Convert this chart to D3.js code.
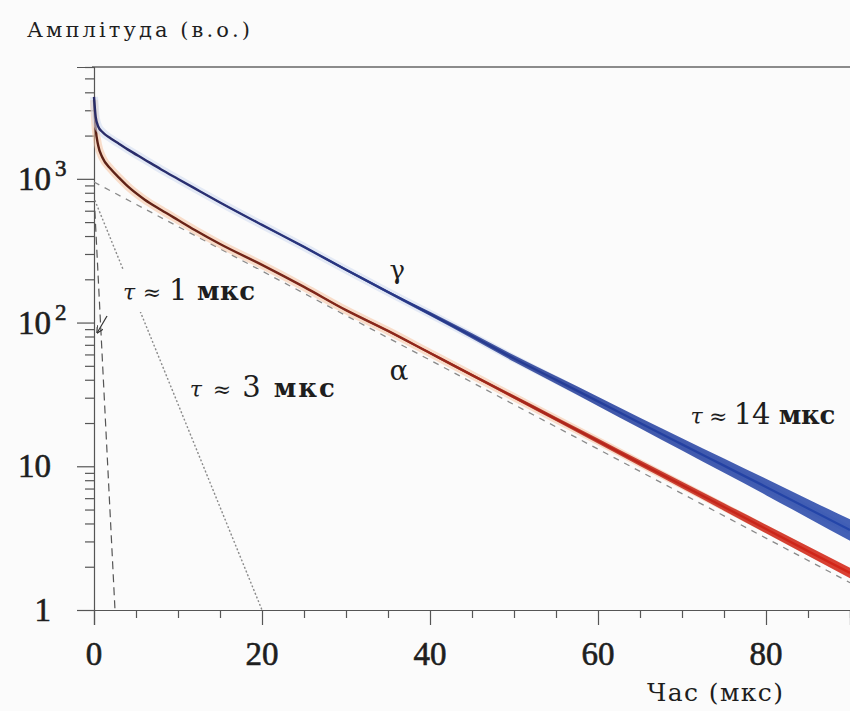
<!DOCTYPE html>
<html>
<head>
<meta charset="UTF-8">
<title>Amplitude decay</title>
<script src="https://cdn.jsdelivr.net/npm/d3@7"></script>
<style>
    body { margin: 0; background: #fbfbfb; }
    svg { display: block; }
    text { font-family: "Liberation Serif", "Times New Roman", serif; fill: #1e1e1e; }
    .lab { font-family: "DejaVu Serif", serif; }
</style>
</head>
<body>
<div id="chart"></div>
<script>

// time samples (мкс)
var times = [0, 0.2, 0.5, 1, 2, 3, 4, 6, 8, 10, 12, 15, 20, 25, 30, 35, 40, 45, 50, 55, 60, 65, 70, 75, 80, 85, 90];

// gamma trace (blue)
var gammaValues = [3715, 2700, 2314, 2118, 1909, 1750, 1603, 1365, 1162, 998, 858, 685, 478, 336, 233, 163, 115, 80.7, 56.2, 39.9, 28.3, 20.0, 14.2, 10.1, 7.18, 5.08, 3.6];
// half-width of the noisy band, in decades
var gammaSpread = [0.004, 0.004, 0.004, 0.004, 0.004, 0.004, 0.004, 0.004, 0.004, 0.004, 0.004, 0.005, 0.005, 0.006, 0.008, 0.01, 0.014, 0.018, 0.022, 0.027, 0.032, 0.037, 0.043, 0.05, 0.057, 0.065, 0.075];

// alpha trace (red)
var alphaValues = [3540, 2240, 1706, 1408, 1170, 1015, 889, 719, 607, 517, 441, 352, 252, 177, 122, 87.5, 61.4, 43.1, 30.3, 21.3, 15.0, 10.5, 7.41, 5.21, 3.66, 2.57, 1.81];
var alphaSpread = [0.004, 0.004, 0.004, 0.004, 0.004, 0.004, 0.004, 0.004, 0.004, 0.004, 0.004, 0.004, 0.004, 0.005, 0.006, 0.007, 0.008, 0.01, 0.012, 0.014, 0.017, 0.02, 0.023, 0.026, 0.03, 0.033, 0.036];

// exponential fits, straight in log scale: [t, value] end points
var fit14 = [[0, 950], [90, 1.55]];
var fit3 = [[0.1, 710], [20, 1]];
var fit1 = [[0.1, 600], [2.5, 1]];

// arrow pointing from the 1 мкс label to its line
var arrow1 = [[1.55, 111], [0.38, 85]];

// axes
var xMajor = [0, 20, 40, 60, 80];
var xMinor = [5, 10, 15, 25, 30, 35, 45, 50, 55, 65, 70, 75, 85, 90];
var yMajor = [1, 10, 100, 1000];
var yMajorLabels = [["1", ""], ["10", ""], ["10", "2"], ["10", "3"]];
var yMinor = [2, 3, 4, 5, 6, 7, 8, 9, 20, 30, 40, 50, 60, 70, 80, 90, 200, 300, 400, 500, 600, 700, 800, 900, 2000, 3000, 4000, 5000, 6000];

var width = 850, height = 711;

var svg = d3.select("#chart").append("svg")
        .attr("width", width)
        .attr("height", height);

svg.append("rect").attr("width", width).attr("height", height).attr("fill", "#fbfbfb");

var x = d3.scaleLinear().domain([0, 90]).range([94, 850]);
var y = d3.scaleLog().domain([1, 6000]).range([610, 67]);

// gradients for the traces (darker on the left, brighter where noisy)
var defs = svg.append("defs");
function grad(id, stops) {
    var g = defs.append("linearGradient").attr("id", id)
            .attr("gradientUnits", "userSpaceOnUse")
            .attr("x1", x(0)).attr("x2", x(90)).attr("y1", 0).attr("y2", 0);
    stops.forEach(function (s) {
        g.append("stop").attr("offset", s[0]).attr("stop-color", s[1]);
    });
}
grad("gGrad", [[0, "#2a2b66"], [0.35, "#283682"], [0.7, "#243f9e"], [1, "#2446aa"]]);
grad("aGrad", [[0, "#5a2116"], [0.35, "#86281b"], [0.7, "#bb2519"], [1, "#d42518"]]);

// top frame line
svg.append("line")
        .attr("x1", x(0) - 2).attr("x2", width)
        .attr("y1", y(6000)).attr("y2", y(6000))
        .attr("stroke", "#666").attr("stroke-width", 1.3);

// x axis
var xAxis = svg.append("g").attr("transform", "translate(0," + y(1) + ")");
xAxis.call(d3.axisBottom(x).tickValues(xMajor).tickSize(15).tickFormat(""));
xAxis.append("g").call(d3.axisBottom(x).tickValues(xMinor).tickSize(8).tickFormat(""))
        .select(".domain").remove();
xAxis.selectAll("path, line").attr("stroke", "#555").attr("stroke-width", 1.2);

svg.selectAll(".xlab").data(xMajor).enter().append("text")
        .attr("class", "xlab")
        .attr("x", function (d) { return x(d); })
        .attr("y", 665)
        .attr("text-anchor", "middle")
        .style("font-size", "33px")
        .style("stroke", "#1e1e1e").style("stroke-width", 0.6)
        .text(function (d) { return d; });

// y axis
var yAxis = svg.append("g").attr("transform", "translate(" + x(0) + ",0)");
yAxis.call(d3.axisLeft(y).tickValues(yMajor).tickSize(17).tickFormat(""));
yAxis.append("g").call(d3.axisLeft(y).tickValues(yMinor).tickSize(9).tickFormat(""))
        .select(".domain").remove();
yAxis.selectAll("path, line").attr("stroke", "#555").attr("stroke-width", 1.2);

var ylab = svg.selectAll(".ylab").data(yMajor).enter().append("g").attr("class", "ylab")
        .style("stroke", "#1e1e1e").style("stroke-width", 0.6);
ylab.append("text")
        .attr("x", 51)
        .attr("y", function (d) { return y(d) + 11; })
        .attr("text-anchor", "end")
        .style("font-size", "33px")
        .text(function (d, i) { return yMajorLabels[i][0]; });
ylab.append("text")
        .attr("x", 55)
        .attr("y", function (d) { return y(d) - 3; })
        .style("font-size", "23px")
        .text(function (d, i) { return yMajorLabels[i][1]; });

// fit lines
var straight = d3.line()
        .x(function (d) { return x(d[0]); })
        .y(function (d) { return y(d[1]); });

svg.append("path").datum(fit14).attr("d", straight)
        .attr("fill", "none").attr("stroke", "#8a8a8a").attr("stroke-width", 1.3)
        .attr("stroke-dasharray", "6,6");
svg.append("path").datum(fit3).attr("d", straight)
        .attr("fill", "none").attr("stroke", "#8a8a8a").attr("stroke-width", 1.4)
        .attr("stroke-dasharray", "2,2");
svg.append("path").datum(fit1).attr("d", straight)
        .attr("fill", "none").attr("stroke", "#555").attr("stroke-width", 1.2)
        .attr("stroke-dasharray", "8,5");

// white patch behind the 1 мкс label cuts the dotted line
svg.append("rect")
        .attr("x", 118).attr("y", 269).attr("width", 140).attr("height", 43)
        .attr("fill", "#fbfbfb");

// traces
function traceData(vals, spread) {
    return times.map(function (t, i) { return {t: t, v: vals[i], s: spread[i]}; });
}
var gammaData = traceData(gammaValues, gammaSpread);
var alphaData = traceData(alphaValues, alphaSpread);

var line = d3.line()
        .curve(d3.curveMonotoneX)
        .x(function (d) { return x(d.t); })
        .y(function (d) { return y(d.v); });
var band = d3.area()
        .curve(d3.curveMonotoneX)
        .x(function (d) { return x(d.t); })
        .y0(function (d) { return y(d.v * Math.pow(10, -d.s)); })
        .y1(function (d) { return y(d.v * Math.pow(10, d.s)); });

function drawTrace(data, halo, gradId) {
    svg.append("path").datum(data).attr("d", line)
            .attr("fill", "none").attr("stroke", halo).attr("stroke-width", 8)
            .attr("stroke-opacity", 0.55).attr("stroke-linejoin", "round");
    svg.append("path").datum(data).attr("d", band)
            .attr("fill", "url(#" + gradId + ")").attr("fill-opacity", 0.85);
    svg.append("path").datum(data).attr("d", line)
            .attr("fill", "none").attr("stroke", "url(#" + gradId + ")").attr("stroke-width", 2.4)
            .attr("stroke-linejoin", "round");
}
drawTrace(alphaData, "#f5c3a0", "aGrad");
drawTrace(gammaData, "#cfdaf0", "gGrad");

// arrow
defs.append("marker").attr("id", "head")
        .attr("viewBox", "0 0 10 10").attr("refX", 9).attr("refY", 5)
        .attr("markerWidth", 6).attr("markerHeight", 6).attr("orient", "auto")
        .append("path").attr("d", "M0,0 L10,5 L0,10").attr("fill", "none")
        .attr("stroke", "#333").attr("stroke-width", 1.6);
svg.append("path").datum(arrow1).attr("d", straight)
        .attr("fill", "none").attr("stroke", "#333").attr("stroke-width", 1.2)
        .attr("marker-end", "url(#head)");

// labels
function tauLabel(t, v, num, len) {
    var txt = svg.append("text").attr("class", "lab")
            .attr("x", x(t)).attr("y", y(v))
            .attr("textLength", len).attr("lengthAdjust", "spacing")
            .style("font-size", "26px");
    txt.append("tspan").style("font-style", "italic").style("font-size", "22px").text("τ");
    txt.append("tspan").style("font-size", "22px").text(" ≈ ");
    txt.append("tspan").style("font-size", "29px").text(num);
    txt.append("tspan").style("font-weight", "600").text(" мкс");
}
tauLabel(3.45, 144, "1", 132);
tauLabel(11.4, 30.4, "3", 145);
tauLabel(71, 19.7, "14", 145);

svg.append("text").attr("class", "lab").attr("x", x(36.1)).attr("y", y(200))
        .attr("text-anchor", "middle").style("font-size", "26px").text("γ");
svg.append("text").attr("class", "lab").attr("x", x(36.3)).attr("y", y(39.9))
        .attr("text-anchor", "middle").style("font-size", "28px").text("α");

svg.append("text").attr("class", "lab").attr("x", 27).attr("y", 37)
        .attr("textLength", 223).attr("lengthAdjust", "spacing")
        .style("font-size", "21px").text("Амплітуда (в.о.)");

svg.append("text").attr("class", "lab").attr("x", 647).attr("y", 701)
        .attr("textLength", 136).attr("lengthAdjust", "spacing")
        .style("font-size", "25px").text("Час (мкс)");

</script>
</body>
</html>
